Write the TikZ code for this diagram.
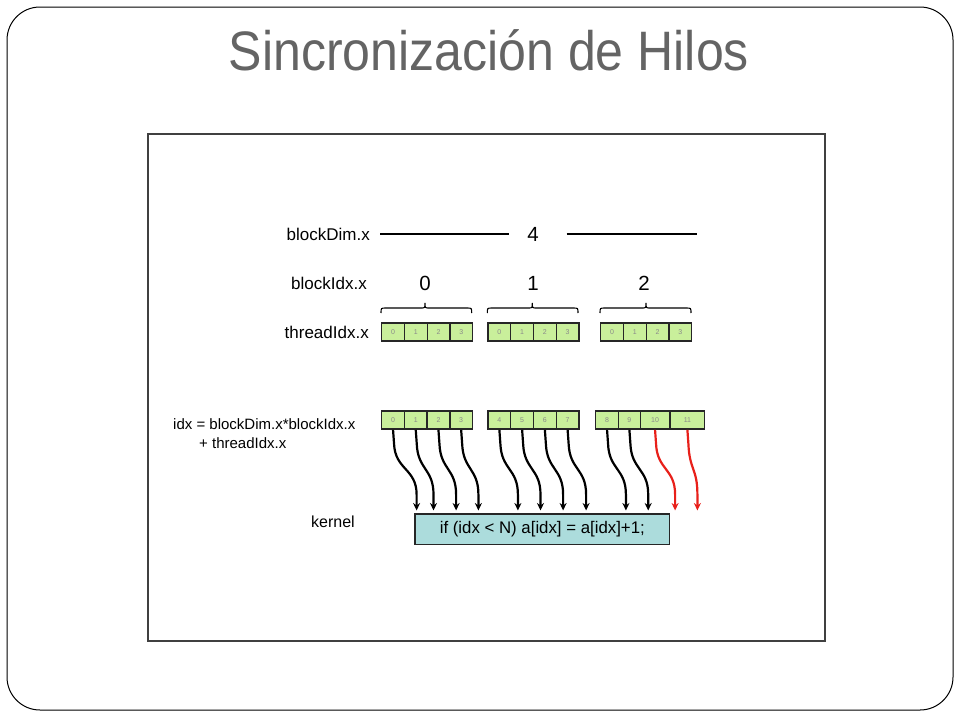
\documentclass[tikz,border=0pt]{standalone}
\usepackage{fontspec}
\setmainfont{Liberation Sans}
\usetikzlibrary{arrows.meta,calc}
\definecolor{cellgreen}{HTML}{C9EF9B}
\definecolor{kernelblue}{HTML}{ACDCDC}
\definecolor{titlegray}{HTML}{646464}
\definecolor{celltext}{HTML}{8A8A8A}
\definecolor{arrred}{HTML}{E8201A}
\newcommand{\thrarrow}[3]{\draw[#3] (#1.south) -- ($(#1.south)+(1,14)$) .. controls ($(#1.south)+(2,40)$) and ($(#2)+(0,-42)$) .. ($(#2)+(0,-16)$) -- (#2);}
\begin{document}
\begin{tikzpicture}[x=1pt,y=-1pt,
  lbl/.style={font=\fontsize{17}{20}\selectfont, inner sep=0pt},
  idxlbl/.style={font=\fontsize{15}{18}\selectfont, inner sep=0pt, anchor=west},
  num/.style={font=\fontsize{20.5}{24}\selectfont, inner sep=0pt},
  cell/.style={draw=black!85, line width=1.4pt, fill=cellgreen, minimum height=18.3pt, inner sep=0pt, anchor=west, font=\fontsize{7}{8}\selectfont\color{celltext}},
  kernelbox/.style={draw=black!85, line width=1.3pt, fill=kernelblue, minimum width=254.8pt, minimum height=30.3pt, inner sep=0pt, font=\fontsize{16.8}{20}\selectfont},
  brc/.style={line width=1.1pt, black},
  tharrow/.style={line width=2.2pt, black, -{Stealth[length=7.5pt,width=7pt]}},
  redarrow/.style={tharrow, draw=arrred, -{Stealth[length=7.5pt,width=7pt,fill=arrred]}}
]
\useasboundingbox (0,0) rectangle (960,720);
% slide frame
\draw[line width=1pt, rounded corners=33pt] (7,7) rectangle (953,710);
\node[anchor=base, inner sep=0pt, text=titlegray, font=\fontsize{55.6}{60}\selectfont] (title) at (489,70.4) {\scalebox{0.9}[1]{Sincronización de Hilos}};
% picture frame
\draw[line width=1.5pt, draw=black!75] (148,134) rectangle (825,641);

% left labels
\node[lbl, anchor=east] (bdl) at (370,234) {blockDim.x};
\node[lbl, anchor=east] (bil) at (367,283) {blockIdx.x};
\node[lbl, anchor=east] (til) at (369,332) {threadIdx.x};
\node[idxlbl] (idx1) at (173,424) {idx = blockDim.x*blockIdx.x};
\node[idxlbl] (idx2) at (199,443) {+ threadIdx.x};
\node[font=\fontsize{16}{19}\selectfont, inner sep=0pt, anchor=east] (kl) at (355,522) {kernel};

% blockDim line
\node[num] (four) at (533,234) {4};
\coordinate (la) at (380,234);
\coordinate (lb) at (509.3,234);
\coordinate (lc) at (566.7,234);
\coordinate (ld) at (696.7,234);
\draw[line width=1.2pt] (la) -- (lb);
\draw[line width=1.2pt] (lc) -- (ld);

% block indices
\node[num] (b0) at (425,283) {0};
\node[num] (b1) at (533,283) {1};
\node[num] (b2) at (644,283) {2};

% braces
\foreach \xa/\xm/\xb in {381/425/471.7, 487.3/532.3/578, 600/646/691} {
  \draw[brc] (\xa,313) .. controls (\xa,308) .. (\xa+5,308) -- (\xm-4,308) .. controls (\xm,308) .. (\xm,303)
     .. controls (\xm,308) .. (\xm+4,308) -- (\xb-5,308) .. controls (\xb,308) .. (\xb,313);
}

% thread cells row 1
\foreach \bx/\bn in {381/a, 487.3/b, 600/d} {
  \foreach \i in {0,1,2,3} {
    \node[cell, minimum width=22.75pt] (\bn\i) at (\bx+22.75*\i,332) {\i};
  }
}

% index cells row 2
\foreach \i in {0,1,2,3} {
  \node[cell, minimum width=22.7pt] (c\i) at (381+22.7*\i,420) {\i};
}
\foreach \i/\j in {4/0,5/1,6/2,7/3} {
  \node[cell, minimum width=22.75pt] (c\i) at (487.3+22.75*\j,420) {\i};
}
\node[cell, minimum width=22.7pt] (c8) at (595,420) {8};
\node[cell, minimum width=22pt] (c9) at (617.7,420) {9};
\node[cell, minimum width=29.3pt] (c10) at (639.7,420) {10};
\node[cell, minimum width=34pt] (c11) at (669.7,420) {11};

% kernel
\node[kernelbox] (k) at (542.3,529.2) {if (idx < N) a[idx] = a[idx]+1;};

% arrow targets
\foreach \n/\x in {0/416.6,1/433.5,2/456.1,3/478.4,4/517.9,5/540.5,6/563.1,7/586.1,8/625.9,9/648.2,10/675.1,11/697.4} {
  \coordinate (t\n) at (\x,510.5);
}

% arrows
\foreach \n in {0,...,9} {
  \thrarrow{c\n}{t\n}{tharrow}
}
\thrarrow{c10}{t10}{redarrow}
\thrarrow{c11}{t11}{redarrow}
\end{tikzpicture}
\end{document}
